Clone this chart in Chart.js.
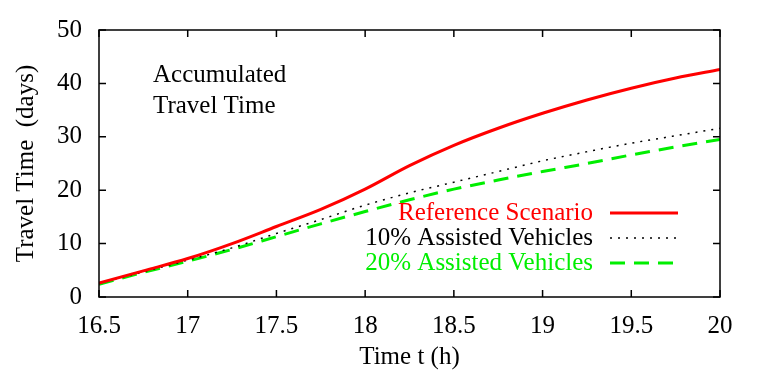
<!DOCTYPE html>
<html>
<head>
<meta charset="utf-8">
<script src="https://cdn.jsdelivr.net/npm/chart.js@4"></script>
<style>
  html, body { margin: 0; padding: 0; background: #fff; }
  #wrap { width: 763px; height: 373px; }
</style>
</head>
<body>
<div id="wrap"><canvas id="travelChart" width="763" height="373"></canvas></div>
<script>
// time of day (h)
const hours = [16.5, 16.75, 17, 17.25, 17.5, 17.75, 18, 18.25, 18.5, 18.75, 19, 19.25, 19.5, 19.75, 20];
// accumulated travel time (days)
const referenceScenario = [2.6, 4.9, 7.2, 10.0, 13.2, 16.4, 20.2, 24.6, 28.4, 31.6, 34.4, 36.9, 39.1, 41.0, 42.6];
const assisted10 = [2.5, 4.7, 6.9, 9.2, 11.9, 14.5, 17.2, 19.5, 21.5, 23.5, 25.5, 27.2, 28.8, 30.2, 31.6];
const assisted20 = [2.4, 4.6, 6.7, 8.9, 11.3, 13.7, 16.0, 18.2, 20.2, 21.9, 23.5, 25.0, 26.6, 28.1, 29.5];

const seriesLabels = ["Reference Scenario", "10% Assisted Vehicles", "20% Assisted Vehicles"];
const xTicks = [16.5, 17, 17.5, 18, 18.5, 19, 19.5, 20];
const yTicks = [0, 10, 20, 30, 40, 50];

const serif = "'Liberation Serif', 'DejaVu Serif', serif";
const fontSize = 25;

function toPoints(vals) {
    return hours.map((h, i) => ({ x: h, y: vals[i] }));
}

// gnuplot-like frame, inward ticks, key and label
const framePlugin = {
    id: 'frame',
    afterDatasetsDraw(chart) {
        const ctx = chart.ctx;
        const a = chart.chartArea;
        const xs = chart.scales.x, ys = chart.scales.y;
        ctx.save();
        ctx.strokeStyle = '#000';
        ctx.lineWidth = 1.5;
        ctx.strokeRect(a.left, a.top, a.right - a.left, a.bottom - a.top);

        const tl = 7;
        ctx.beginPath();
        xTicks.forEach(v => {
            const px = xs.getPixelForValue(v);
            ctx.moveTo(px, a.bottom); ctx.lineTo(px, a.bottom - tl);
            ctx.moveTo(px, a.top); ctx.lineTo(px, a.top + tl);
        });
        yTicks.forEach(v => {
            const py = ys.getPixelForValue(v);
            ctx.moveTo(a.left, py); ctx.lineTo(a.left + tl, py);
            ctx.moveTo(a.right, py); ctx.lineTo(a.right - tl, py);
        });
        ctx.stroke();

        // annotation
        ctx.font = fontSize + 'px ' + serif;
        ctx.fillStyle = '#000';
        ctx.textAlign = 'left';
        ctx.textBaseline = 'middle';
        ctx.fillText('Accumulated', 153, 75);
        ctx.fillText('Travel Time', 153, 106);

        // key: text right aligned, sample on the right
        const textRight = 593, lineStart = 610, lineEnd = 678;
        const rowY = [213, 238, 263];
        chart.data.datasets.forEach((ds, i) => {
            const y = rowY[i];
            ctx.textAlign = 'right';
            ctx.fillStyle = ds.borderColor;
            ctx.fillText(ds.label, textRight, y);
            ctx.beginPath();
            ctx.strokeStyle = ds.borderColor;
            ctx.lineWidth = ds.borderWidth;
            ctx.setLineDash(ds.borderDash || []);
            ctx.moveTo(lineStart, y);
            ctx.lineTo(lineEnd, y);
            ctx.stroke();
            ctx.setLineDash([]);
        });
        ctx.restore();
    }
};

const ctx = document.getElementById('travelChart').getContext('2d');
const chart = new Chart(ctx, {
    type: 'line',
    data: {
        datasets: [
            {
                label: seriesLabels[0],
                data: toPoints(referenceScenario),
                borderColor: '#ff0000',
                borderWidth: 3,
                pointRadius: 0,
                cubicInterpolationMode: 'monotone'
            },
            {
                label: seriesLabels[1],
                data: toPoints(assisted10),
                borderColor: '#000000',
                borderWidth: 1.5,
                borderDash: [2, 6],
                pointRadius: 0,
                cubicInterpolationMode: 'monotone'
            },
            {
                label: seriesLabels[2],
                data: toPoints(assisted20),
                borderColor: '#00ee00',
                borderWidth: 3,
                borderDash: [15, 9],
                pointRadius: 0,
                cubicInterpolationMode: 'monotone'
            }
        ]
    },
    options: {
        responsive: false,
        animation: false,
        layout: { padding: { top: 30, right: 43, left: 0, bottom: 0 } },
        plugins: {
            legend: { display: false },
            tooltip: { enabled: false }
        },
        scales: {
            x: {
                type: 'linear',
                min: 16.5,
                max: 20,
                afterFit: s => { s.height = 76; },
                afterBuildTicks: s => { s.ticks = xTicks.map(v => ({ value: v })); },
                grid: { display: false },
                border: { display: false },
                ticks: {
                    color: '#000',
                    padding: 6,
                    font: { family: serif, size: fontSize },
                    callback: v => String(v)
                },
                title: {
                    display: true,
                    text: 'Time t (h)',
                    color: '#000',
                    font: { family: serif, size: fontSize },
                    padding: { top: 0, bottom: 1 }
                }
            },
            y: {
                min: 0,
                max: 50,
                afterFit: s => { s.width = 99; },
                afterBuildTicks: s => { s.ticks = yTicks.map(v => ({ value: v })); },
                grid: { display: false },
                border: { display: false },
                ticks: {
                    color: '#000',
                    padding: 9,
                    font: { family: serif, size: fontSize },
                    callback: v => String(v)
                },
                title: {
                    display: true,
                    text: 'Travel Time  (days)',
                    color: '#000',
                    font: { family: serif, size: fontSize },
                    padding: { top: 11, bottom: 0 }
                }
            }
        }
    },
    plugins: [framePlugin]
});
</script>
</body>
</html>
